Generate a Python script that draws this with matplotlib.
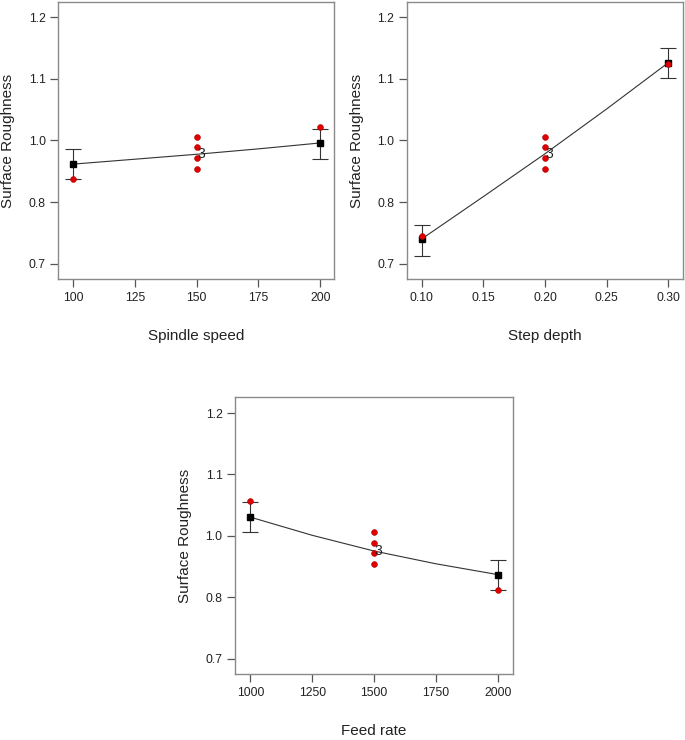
import matplotlib
matplotlib.use("Agg")
import matplotlib.pyplot as plt

plt.rcParams["font.family"] = ["Liberation Sans", "DejaVu Sans"]

# y ticks as the software placed them (labels are rounded to one decimal)
Y_TICKS = [0.7, 0.825, 0.95, 1.075, 1.2]
Y_TICKLABELS = ["0.7", "0.8", "1.0", "1.1", "1.2"]
Y_LIM = (0.668, 1.232)

# Spindle speed
speed_levels = [100, 150, 200]
speed_mean = [0.902, 0.922, 0.945]
speed_lo = [0.871, None, 0.913]
speed_hi = [0.932, None, 0.974]
speed_obs_x = [100, 150, 150, 150, 150, 200]
speed_obs_y = [0.871, 0.957, 0.936, 0.915, 0.893, 0.978]
speed_line_x = [100, 125, 150, 175, 200]
speed_line_y = [0.902, 0.912, 0.922, 0.933, 0.945]
speed_ticks = [100, 125, 150, 175, 200]

# Step depth
depth_levels = [0.10, 0.20, 0.30]
depth_mean = [0.750, 0.923, 1.108]
depth_lo = [0.716, None, 1.076]
depth_hi = [0.778, None, 1.138]
depth_obs_x = [0.10, 0.20, 0.20, 0.20, 0.20, 0.30]
depth_obs_y = [0.755, 0.957, 0.936, 0.914, 0.893, 1.106]
depth_line_x = [0.10, 0.15, 0.20, 0.25, 0.30]
depth_line_y = [0.750, 0.836, 0.923, 1.014, 1.108]
depth_ticks = [0.10, 0.15, 0.20, 0.25, 0.30]

# Feed rate
feed_levels = [1000, 1500, 2000]
feed_mean = [0.988, 0.919, 0.871]
feed_lo = [0.957, None, 0.839]
feed_hi = [1.018, None, 0.900]
feed_obs_x = [1000, 1500, 1500, 1500, 1500, 2000]
feed_obs_y = [1.020, 0.957, 0.936, 0.914, 0.893, 0.840]
feed_line_x = [1000, 1250, 1500, 1750, 2000]
feed_line_y = [0.988, 0.951, 0.919, 0.893, 0.871]
feed_ticks = [1000, 1250, 1500, 1750, 2000]

FRAME = "#8a8a8a"
INK = "#222222"


def draw_panel(ax, name, levels, mean, lo, hi, obs_x, obs_y, line_x, line_y,
               ticks, tick_fmt, xlim):
    ax.plot(line_x, line_y, color="#333333", lw=0.8, zorder=2)
    for x, m, l, h in zip(levels, mean, lo, hi):
        if l is None:
            continue
        ax.errorbar([x], [m], yerr=[[m - l], [h - m]], fmt="none",
                    ecolor="#333333", elinewidth=0.8, capsize=5.5,
                    capthick=0.8, zorder=3)
        ax.plot([x], [m], marker="s", ms=4.2, color="black", ls="none", zorder=4)
    ax.plot(obs_x, obs_y, marker="o", ms=4.2, color="#e00000",
            markeredgecolor="#b00000", markeredgewidth=0.4, ls="none", zorder=5)
    ax.annotate("3", (levels[1], mean[1]), xytext=(0.5, 0), textcoords="offset points",
                ha="left", va="center", fontsize=10, color=INK, zorder=6)

    ax.set_xlim(*xlim)
    ax.set_ylim(*Y_LIM)
    ax.set_xticks(ticks)
    ax.set_xticklabels([tick_fmt.format(t) for t in ticks])
    ax.set_yticks(Y_TICKS)
    ax.set_yticklabels(Y_TICKLABELS)
    ax.tick_params(axis="both", direction="out", length=5.5, width=0.9,
                   colors="#555555", labelcolor=INK, labelsize=8.8, pad=3.5)
    for s in ax.spines.values():
        s.set_color(FRAME)
        s.set_linewidth(1.0)

    ax.set_xlabel(name, fontsize=11, color=INK)
    ax.xaxis.set_label_coords(0.5, -0.179)
    ax.set_ylabel("Surface Roughness", fontsize=11, color=INK)
    ax.yaxis.set_label_coords(-0.156, 0.5)


fig = plt.figure(figsize=(6.85, 7.40), dpi=100, facecolor="white")

ax1 = fig.add_axes([0.0851, 0.6226, 0.4029, 0.3751])
draw_panel(ax1, "Spindle speed", speed_levels, speed_mean, speed_lo, speed_hi,
           speed_obs_x, speed_obs_y, speed_line_x, speed_line_y,
           speed_ticks, "{:.0f}", (93.9, 205.7))

ax2 = fig.add_axes([0.5937, 0.6226, 0.4038, 0.3751])
draw_panel(ax2, "Step depth", depth_levels, depth_mean, depth_lo, depth_hi,
           depth_obs_x, depth_obs_y, depth_line_x, depth_line_y,
           depth_ticks, "{:.2f}", (0.0878, 0.3122))

ax3 = fig.add_axes([0.3431, 0.0888, 0.4063, 0.3743])
draw_panel(ax3, "Feed rate", feed_levels, feed_mean, feed_lo, feed_hi,
           feed_obs_x, feed_obs_y, feed_line_x, feed_line_y,
           feed_ticks, "{:.0f}", (938, 2063))

fig.savefig("out.png", dpi=100, facecolor="white")
